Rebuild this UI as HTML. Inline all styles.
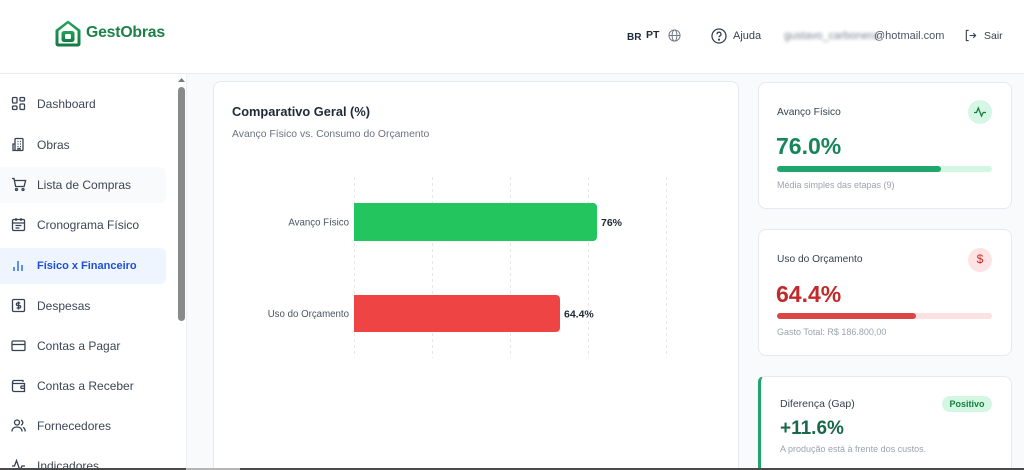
<!DOCTYPE html>
<html><head><meta charset="utf-8">
<style>
*{margin:0;padding:0;box-sizing:border-box}
html{width:1024px;height:470px;overflow:hidden}
body{width:1024px;height:470px;overflow:hidden;background:#f8fafc;font-family:"Liberation Sans",sans-serif;position:relative;color:#374151}
.abs{position:absolute}
.header{left:0;top:0;width:1024px;height:74px;background:#fff;border-bottom:1px solid #e8ebef}
.sidebar{left:0;top:74px;width:187px;height:396px;background:#fff;border-right:1px solid #eef0f3;overflow:hidden}
.nav{position:absolute;left:0;width:166px;height:36px;border-radius:0 6px 6px 0;display:flex;align-items:center}
.nav svg{position:absolute;left:11px;top:10px}
.nav span{position:absolute;left:37px;font-size:12px;color:#3d4654;white-space:nowrap}
.card{background:#fff;border:1px solid #e6e9ee;border-radius:8px}
.t{position:absolute;white-space:nowrap}
</style></head><body>

<div class="abs header"></div>
<!-- logo -->
<svg class="abs" style="left:54px;top:19px" width="28" height="29" viewBox="0 0 28 29">
<defs><linearGradient id="lg" x1="0" y1="0" x2="0" y2="1"><stop offset="0" stop-color="#22a45a"/><stop offset="1" stop-color="#137a44"/></linearGradient></defs>
<path d="M14 1.5 L26.5 11 V25 a2.5 2.5 0 0 1 -2.5 2.5 H4 a2.5 2.5 0 0 1 -2.5 -2.5 V11 Z" fill="url(#lg)"/>
<path d="M14 4.5 L23.5 12 V24.5 H4.5 V12 Z" fill="#fff"/>
<rect x="7.5" y="12" width="13" height="11" rx="2.5" fill="url(#lg)"/>
<rect x="11" y="15" width="6" height="5" rx="1.3" fill="#fff"/>
</svg>
<div class="t" style="left:86px;top:24px;font-size:15.8px;font-weight:bold;color:#1d8048;letter-spacing:-0.2px">GestObras</div>

<!-- header right -->
<div class="t" style="left:627px;top:32px;font-size:10px;font-weight:bold;color:#1f2937">BR</div>
<div class="t" style="left:646px;top:29px;font-size:10.5px;font-weight:bold;color:#1f2937">PT</div>
<svg class="abs" style="left:668px;top:29px" width="13" height="13" viewBox="0 0 14 14" fill="none" stroke="#6b7280" stroke-width="1"><circle cx="7" cy="7" r="6"/><ellipse cx="7" cy="7" rx="2.6" ry="6"/><path d="M1 7h12"/></svg>
<svg class="abs" style="left:711px;top:28px" width="16" height="16" viewBox="0 0 16 16" fill="none" stroke="#374151" stroke-width="1.3"><circle cx="8" cy="8" r="7"/><path d="M6 6.2a2 2 0 1 1 2.6 1.9c-.5.2-.6.6-.6 1.2"/><circle cx="8" cy="11.6" r=".5" fill="#374151"/></svg>
<div class="t" style="left:733px;top:30px;font-size:11px;color:#374151">Ajuda</div>
<div class="t" style="left:784px;top:30px;font-size:11px;color:#7b8594;filter:blur(1.6px)">gustavo_carbonera</div>
<div class="t" style="left:874px;top:30px;font-size:11px;color:#4b5563">@hotmail.com</div>
<svg class="abs" style="left:964px;top:29px" width="13" height="13" viewBox="0 0 14 14" fill="none" stroke="#374151" stroke-width="1.2"><path d="M5 1.5H2.5v11H5"/><path d="M6 7h6.5M10 4.5L12.5 7 10 9.5"/></svg>
<div class="t" style="left:984px;top:30px;font-size:10.5px;color:#374151">Sair</div>

<!-- sidebar -->
<div class="abs sidebar">
  <div class="nav" style="top:12px"><svg width="15" height="15" viewBox="0 0 15 15" fill="none" stroke="#374151" stroke-width="1.3"><rect x="1.5" y="1.5" width="4.5" height="5.5" rx="1"/><rect x="9" y="1.5" width="4.5" height="3.5" rx="1"/><rect x="9" y="8" width="4.5" height="5.5" rx="1"/><rect x="1.5" y="10" width="4.5" height="3.5" rx="1"/></svg><span>Dashboard</span></div>
  <div class="nav" style="top:53px"><svg width="15" height="15" viewBox="0 0 15 15" fill="none" stroke="#374151" stroke-width="1.3"><rect x="4" y="1.5" width="8" height="12" rx="1"/><path d="M4 7H2v6.5h2M6.5 4.5h1M9 4.5h1M6.5 7h1M9 7h1M6.5 9.5h1M9 9.5h1M7 13.5v-2h2v2"/></svg><span>Obras</span></div>
  <div class="nav" style="top:93px;background:#f8fafc"><svg width="16" height="15" viewBox="0 0 16 15" fill="none" stroke="#374151" stroke-width="1.3"><path d="M1 1.5h2l1.6 8h8.5l1.5-6H4"/><circle cx="5.5" cy="12.5" r="1"/><circle cx="12" cy="12.5" r="1"/></svg><span>Lista de Compras</span></div>
  <div class="nav" style="top:133px"><svg width="15" height="15" viewBox="0 0 15 15" fill="none" stroke="#374151" stroke-width="1.3"><rect x="1.5" y="2.5" width="12" height="11" rx="1.2"/><path d="M1.5 6h12M5 1v3M10 1v3M4.5 8.5h6M4.5 11h4"/></svg><span>Cronograma Físico</span></div>
  <div class="nav" style="top:174px;background:#eff5ff"><svg width="15" height="15" viewBox="0 0 15 15" fill="none" stroke="#2563eb" stroke-width="1.4"><path d="M3 13V9M7 13V3M11 13V7"/></svg><span style="font-size:11px;font-weight:bold;color:#1d4ed8">Físico x Financeiro</span></div>
  <div class="nav" style="top:214px"><svg width="15" height="15" viewBox="0 0 15 15" fill="none" stroke="#374151" stroke-width="1.3"><rect x="1.5" y="1.5" width="12" height="12" rx="1.2"/><path d="M9.3 5H6.6a1.2 1.2 0 0 0 0 2.5h1.8a1.2 1.2 0 0 1 0 2.5H5.6M7.5 3.5v8"/></svg><span>Despesas</span></div>
  <div class="nav" style="top:254px"><svg width="15" height="15" viewBox="0 0 15 15" fill="none" stroke="#374151" stroke-width="1.3"><rect x="1" y="3" width="13" height="9.5" rx="1.3"/><path d="M1 6.5h13"/></svg><span>Contas a Pagar</span></div>
  <div class="nav" style="top:294px"><svg width="15" height="15" viewBox="0 0 15 15" fill="none" stroke="#374151" stroke-width="1.3"><path d="M12 4V2.5H3a1.5 1.5 0 0 0 0 3h10.5v8H3A1.5 1.5 0 0 1 1.5 12V4"/><path d="M13.5 8h-2.5a1.2 1.2 0 0 0 0 2.4h2.5"/></svg><span>Contas a Receber</span></div>
  <div class="nav" style="top:334px"><svg width="15" height="15" viewBox="0 0 15 15" fill="none" stroke="#374151" stroke-width="1.3"><circle cx="6" cy="4.5" r="2.5"/><path d="M1 13.5c0-3 2.2-4.5 5-4.5s5 1.5 5 4.5M10 2.2a2.5 2.5 0 0 1 0 4.8M12 9.3c1.3.6 2.2 2 2.2 4.2"/></svg><span>Fornecedores</span></div>
  <div class="nav" style="top:374px"><svg width="15" height="15" viewBox="0 0 15 15" fill="none" stroke="#374151" stroke-width="1.3"><path d="M1 8h2.5l2-5.5 3.5 10 2-4.5h3"/></svg><span>Indicadores</span></div>
  <!-- scrollbar -->
  <svg class="abs" style="left:177px;top:3px" width="9" height="6" viewBox="0 0 9 6"><path d="M1 5L4.5 1 8 5Z" fill="#7a7a7a"/></svg>
  <div class="abs" style="left:177.5px;top:13px;width:7.5px;height:234px;background:#8a8a8a;border-radius:4px"></div>
</div>

<!-- chart card -->
<div class="abs card" style="left:213px;top:81px;width:526px;height:389px;border-bottom:none;border-radius:8px 8px 0 0"></div>
<div class="t" style="left:232px;top:104px;font-size:12.8px;font-weight:bold;color:#1f2937">Comparativo Geral (%)</div>
<div class="t" style="left:232px;top:129px;font-size:10.4px;color:#6b7280">Avanço Físico vs. Consumo do Orçamento</div>
<svg class="abs" style="left:0;top:0" width="740" height="470">
  <g stroke="#e5e7eb" stroke-width="1" stroke-dasharray="3 3">
    <line x1="354.5" y1="177" x2="354.5" y2="358"/>
    <line x1="432.5" y1="177" x2="432.5" y2="358"/>
    <line x1="510.5" y1="177" x2="510.5" y2="358"/>
    <line x1="588.5" y1="177" x2="588.5" y2="358"/>
    <line x1="666.5" y1="177" x2="666.5" y2="358"/>
  </g>
  <path d="M354 203 H593 a4 4 0 0 1 4 4 V237 a4 4 0 0 1 -4 4 H354 Z" fill="#22c55e"/>
  <path d="M354 295 H556 a4 4 0 0 1 4 4 V328 a4 4 0 0 1 -4 4 H354 Z" fill="#ef4444"/>
  <g font-family="Liberation Sans, sans-serif" font-size="9.7" fill="#4b5563" text-anchor="end">
    <text x="349" y="225.5">Avanço Físico</text>
    <text x="349" y="317">Uso do Orçamento</text>
  </g>
  <g font-family="Liberation Sans, sans-serif" font-size="10.5" font-weight="bold" fill="#1f2937">
    <text x="601" y="226">76%</text>
    <text x="564" y="317.5">64.4%</text>
  </g>
</svg>

<!-- right card 1 -->
<div class="abs card" style="left:758px;top:82px;width:254px;height:127px"></div>
<div class="t" style="left:777px;top:107px;font-size:10.2px;color:#374151">Avanço Físico</div>
<div class="abs" style="left:968px;top:100px;width:24px;height:24px;border-radius:50%;background:#d7f7e6"></div>
<svg class="abs" style="left:973px;top:105px" width="14" height="14" viewBox="0 0 14 14" fill="none" stroke="#15803d" stroke-width="1.3"><path d="M1 7.5h2.5l1.8-4.5 3.2 8 1.7-3.5h2.8"/></svg>
<div class="t" style="left:776px;top:133px;font-size:23px;font-weight:bold;color:#17845a">76.0%</div>
<div class="abs" style="left:777px;top:166px;width:215px;height:6px;background:#d4f7e4;border-radius:3px"></div>
<div class="abs" style="left:777px;top:166px;width:164px;height:6px;background:#1ea66c;border-radius:3px"></div>
<div class="t" style="left:777px;top:180px;font-size:9px;color:#9ca3af">Média simples das etapas (9)</div>

<!-- right card 2 -->
<div class="abs card" style="left:758px;top:229px;width:254px;height:127px"></div>
<div class="t" style="left:777px;top:254px;font-size:10.2px;color:#374151">Uso do Orçamento</div>
<div class="abs" style="left:968px;top:248px;width:24px;height:24px;border-radius:50%;background:#fde3e3"></div>
<div class="t" style="left:968px;top:252px;width:24px;text-align:center;font-size:12px;color:#dc2626">$</div>
<div class="t" style="left:776px;top:281px;font-size:23px;font-weight:bold;color:#c02a2a">64.4%</div>
<div class="abs" style="left:777px;top:313px;width:215px;height:6px;background:#fde2e2;border-radius:3px"></div>
<div class="abs" style="left:777px;top:313px;width:139px;height:6px;background:#dc4545;border-radius:3px"></div>
<div class="t" style="left:777px;top:327px;font-size:9px;color:#9ca3af">Gasto Total: R$ 186.800,00</div>

<!-- right card 3 -->
<div class="abs card" style="left:758px;top:376px;width:254px;height:94px;border-left:3px solid #1ea66c;border-bottom:none;border-radius:6px 8px 0 0"></div>
<div class="t" style="left:780px;top:398px;font-size:10.5px;color:#374151">Diferença (Gap)</div>
<div class="abs" style="left:942px;top:396px;width:50px;height:16px;border-radius:8px;background:#d4f7e4"></div>
<div class="t" style="left:942px;top:399px;width:50px;text-align:center;font-size:9px;font-weight:bold;color:#15803d">Positivo</div>
<div class="t" style="left:780px;top:418px;font-size:19px;font-weight:bold;color:#17694a">+11.6%</div>
<div class="t" style="left:780px;top:444px;font-size:9px;color:#9ca3af">A produção está à frente dos custos.</div>

<!-- bottom edge -->
<div class="abs" style="left:0;top:468px;width:1024px;height:2px;background:#4a4a4a"></div>
<div class="abs" style="left:186px;top:468px;width:54px;height:2px;background:#b5b5b5"></div>
</body></html>
